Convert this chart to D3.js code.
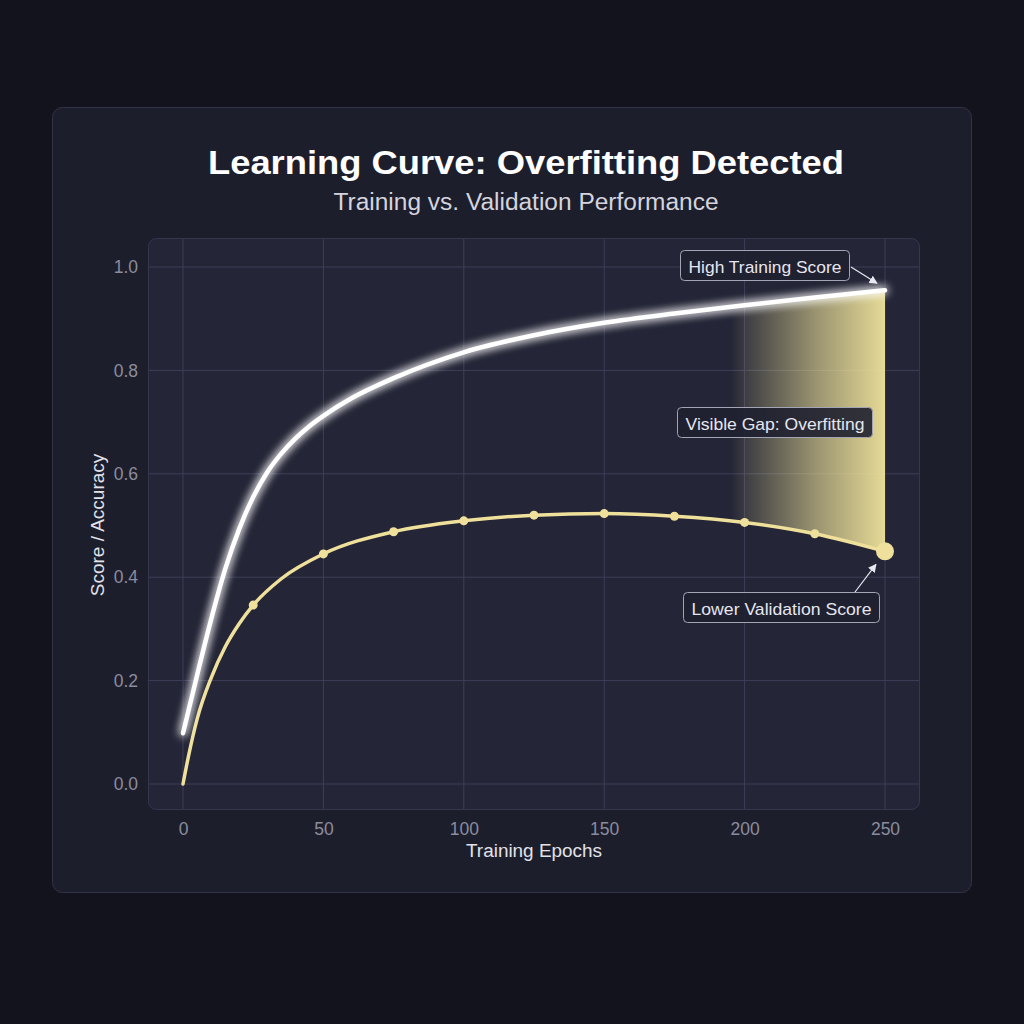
<!DOCTYPE html>
<html><head><meta charset="utf-8">
<script src="https://cdn.jsdelivr.net/npm/d3@7"></script>
<style>
html,body{margin:0;padding:0;background:#14141f;}
svg{display:block;font-family:"Liberation Sans",Arial,Helvetica,sans-serif;}
</style></head>
<body><svg id="chart" width="1024" height="1024"></svg>
<script>
// ---- data ----
const titleText = "Learning Curve: Overfitting Detected";
const subtitleText = "Training vs. Validation Performance";
const xLabel = "Training Epochs";
const yLabel = "Score / Accuracy";
const xTicks = [0, 50, 100, 150, 200, 250];
const yTicks = [0.0, 0.2, 0.4, 0.6, 0.8, 1.0];
const trainEpochs = [0, 5, 10, 15, 20, 25, 30, 35, 40, 45, 50, 60, 75, 100, 125, 150, 175, 200, 225, 250];
const trainScore  = [0.098, 0.21, 0.318, 0.415, 0.493, 0.555, 0.603, 0.639, 0.668, 0.692, 0.712, 0.746, 0.785, 0.835, 0.868, 0.892, 0.910, 0.926, 0.941, 0.955];
const valEpochs = [0, 2, 5, 10, 15, 20, 25, 35, 50, 75, 100, 125, 150, 175, 200, 225, 250];
const valScore  = [0.0, 0.055, 0.125, 0.205, 0.265, 0.31, 0.346, 0.397, 0.445, 0.488, 0.509, 0.520, 0.523, 0.518, 0.506, 0.484, 0.450];
const markerEpochs = [25, 50, 75, 100, 125, 150, 175, 200, 225, 250];
const gapStart = 195;
const annotations = [
  {text: "High Training Score"},
  {text: "Visible Gap: Overfitting"},
  {text: "Lower Validation Score"}
];

// ---- setup ----
const svg = d3.select("#chart");
const defs = svg.append("defs");

svg.append("rect").attr("width",1024).attr("height",1024).attr("fill","#13131d");

// card
svg.append("rect").attr("x",52.5).attr("y",107.5).attr("width",919).attr("height",785)
  .attr("rx",10).attr("fill","#1d1e2c").attr("stroke","#323346").attr("stroke-width",1);

svg.append("text").attr("x",526).attr("y",174).attr("text-anchor","middle")
  .attr("font-size",32.5).attr("font-weight","bold").attr("fill","#ffffff")
  .attr("textLength",636).attr("lengthAdjust","spacingAndGlyphs").text(titleText);
svg.append("text").attr("x",526).attr("y",210).attr("text-anchor","middle")
  .attr("font-size",23).attr("fill","#d4d4de")
  .attr("textLength",385).attr("lengthAdjust","spacingAndGlyphs").text(subtitleText);

const plot = {left:148, top:238, right:920, bottom:810};
svg.append("rect").attr("x",plot.left+0.5).attr("y",plot.top+0.5)
  .attr("width",plot.right-plot.left-1).attr("height",plot.bottom-plot.top-1)
  .attr("rx",8).attr("fill","#242536").attr("stroke","#35374d");

const x = d3.scaleLinear().domain([0,250]).range([183,885]);
const y = d3.scaleLinear().domain([0,1]).range([784,267]);

// grid
const grid = svg.append("g");
grid.selectAll(".gx").data(xTicks).join("line")
  .attr("x1",d=>x(d)).attr("x2",d=>x(d)).attr("y1",plot.top+1).attr("y2",plot.bottom-1)
  .attr("stroke","#3d3f59").attr("stroke-width",1);
grid.selectAll(".gy").data(yTicks).join("line")
  .attr("y1",d=>y(d)).attr("y2",d=>y(d)).attr("x1",plot.left+1).attr("x2",plot.right-1)
  .attr("stroke","#3d3f59").attr("stroke-width",1);

// axes (labels only)
const xAxis = svg.append("g").attr("transform",`translate(0,${plot.bottom+5})`)
  .call(d3.axisBottom(x).tickValues(xTicks).tickSize(0).tickPadding(8).tickFormat(d3.format("d")));
const yAxis = svg.append("g").attr("transform",`translate(${plot.left-10},0)`)
  .call(d3.axisLeft(y).tickValues(yTicks).tickSize(0).tickPadding(0).tickFormat(d3.format(".1f")));
[xAxis,yAxis].forEach(a=>{
  a.select(".domain").remove();
  a.selectAll("text").attr("fill","#8b8c9e").attr("font-size",17.5)
    .attr("font-family","Liberation Sans, Arial, sans-serif");
});

svg.append("text").attr("x",534).attr("y",857).attr("text-anchor","middle")
  .attr("font-size",18).attr("fill","#e2e2ea")
  .attr("textLength",136).attr("lengthAdjust","spacingAndGlyphs").text(xLabel);
svg.append("text").attr("transform","translate(104,525) rotate(-90)").attr("text-anchor","middle")
  .attr("font-size",19).attr("fill","#e2e2ea").text(yLabel);

// data arrays
const train = trainEpochs.map((e,i)=>({e, v:trainScore[i]}));
const val = valEpochs.map((e,i)=>({e, v:valScore[i]}));

const curve = d3.curveMonotoneX;
const trainLine = d3.line().x(d=>x(d.e)).y(d=>y(d.v)).curve(curve);
const valLine = d3.line().x(d=>x(d.e)).y(d=>y(d.v)).curve(curve);

// build gap polygon by sampling rendered paths
const tmpT = svg.append("path").attr("d",trainLine(train)).attr("fill","none");
const tmpV = svg.append("path").attr("d",valLine(val)).attr("fill","none");
function yAtX(pathNode, px){
  const L = pathNode.getTotalLength();
  let lo=0, hi=L;
  for(let k=0;k<40;k++){const mid=(lo+hi)/2; if(pathNode.getPointAtLength(mid).x<px) lo=mid; else hi=mid;}
  return pathNode.getPointAtLength(lo).y;
}
const gx0 = x(gapStart), gx1 = x(250);
const topPts=[], botPts=[];
for(let px=gx0; px<gx1; px+=3){
  topPts.push([px,yAtX(tmpT.node(),px)]);
  botPts.push([px,yAtX(tmpV.node(),px)]);
}
topPts.push([gx1,y(trainScore[trainScore.length-1])]);
botPts.push([gx1,y(valScore[valScore.length-1])]);
tmpT.remove(); tmpV.remove();

const grad = defs.append("linearGradient").attr("id","gapGrad")
  .attr("gradientUnits","userSpaceOnUse").attr("x1",gx0).attr("x2",gx1).attr("y1",0).attr("y2",0);
grad.append("stop").attr("offset","0%").attr("stop-color","#efe39a").attr("stop-opacity",0);
grad.append("stop").attr("offset","12%").attr("stop-color","#efe39a").attr("stop-opacity",0.15);
grad.append("stop").attr("offset","55%").attr("stop-color","#efe39a").attr("stop-opacity",0.58);
grad.append("stop").attr("offset","100%").attr("stop-color","#efe39a").attr("stop-opacity",0.95);
svg.append("path")
  .attr("d", d3.line()(topPts.concat(botPts.slice().reverse())) + "Z")
  .attr("fill","url(#gapGrad)");

// glow filter
const glow = defs.append("filter").attr("id","glow").attr("x","-20%").attr("y","-20%").attr("width","140%").attr("height","140%");
glow.append("feGaussianBlur").attr("in","SourceGraphic").attr("stdDeviation",5).attr("result","b");
const m = glow.append("feMerge");
m.append("feMergeNode").attr("in","b");
m.append("feMergeNode").attr("in","b");
m.append("feMergeNode").attr("in","SourceGraphic");

// validation line
svg.append("path").attr("d",valLine(val)).attr("fill","none")
  .attr("stroke","#efe09c").attr("stroke-width",3.5).attr("stroke-linecap","round");
svg.selectAll(".vm").data(val.filter(d=>markerEpochs.includes(d.e))).join("circle")
  .attr("cx",d=>x(d.e)).attr("cy",d=>y(d.v))
  .attr("r",d=>d.e===250?9:4.5).attr("fill","#efe09c");

// training line
svg.append("path").attr("d",trainLine(train)).attr("fill","none")
  .attr("stroke","#ffffff").attr("stroke-width",4.5).attr("stroke-linecap","round")
  .attr("filter","url(#glow)");

// arrow marker
defs.append("marker").attr("id","arr").attr("viewBox","0 0 10 10").attr("refX",9).attr("refY",5)
  .attr("markerWidth",7).attr("markerHeight",7).attr("orient","auto-start-reverse")
  .append("path").attr("d","M0,0 L10,5 L0,10 Z").attr("fill","#e8e8f0");

function annot(a, bx, by, bw, bh){
  const g = svg.append("g");
  g.append("rect").attr("x",bx).attr("y",by).attr("width",bw).attr("height",bh).attr("rx",4)
    .attr("fill","#1f2030").attr("fill-opacity",0.9).attr("stroke","#a4a5b4").attr("stroke-width",1);
  g.append("text").attr("x",bx+bw/2).attr("y",by+22).attr("text-anchor","middle")
    .attr("font-size",17).attr("fill","#e6e6ee")
    .attr("textLength",bw-16).attr("lengthAdjust","spacingAndGlyphs").text(a.text);
}
// arrows
svg.append("line").attr("x1",851).attr("y1",267).attr("x2",x(250)-8).attr("y2",y(trainScore[trainScore.length-1])-7)
  .attr("stroke","#e8e8f0").attr("stroke-width",1.2).attr("marker-end","url(#arr)");
svg.append("line").attr("x1",855).attr("y1",592).attr("x2",x(250)-9).attr("y2",y(valScore[valScore.length-1])+13)
  .attr("stroke","#e8e8f0").attr("stroke-width",1.2).attr("marker-end","url(#arr)");

annot(annotations[0], 680.5, 250.5, 169, 30);
annot(annotations[1], 677.5, 407.5, 195, 30);
annot(annotations[2], 683.5, 592.5, 196, 30);
</script></body></html>
